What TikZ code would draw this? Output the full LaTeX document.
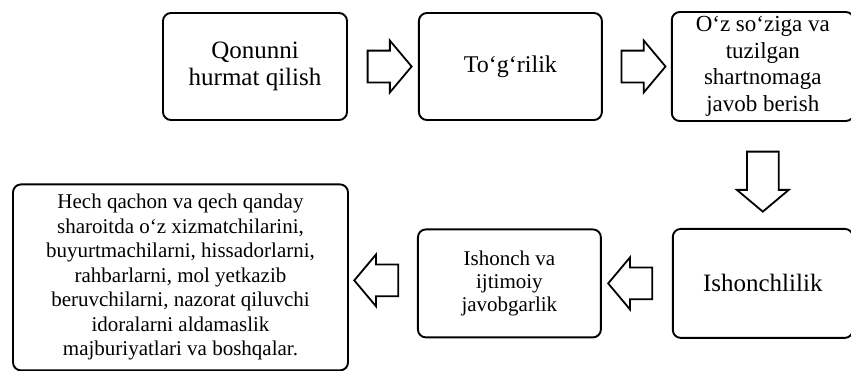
\documentclass[tikz,border=0pt]{standalone}
\usepackage{fontspec}
\setmainfont{Liberation Serif}
\usetikzlibrary{shapes.arrows, positioning, calc}

\begin{document}
\begin{tikzpicture}[
    x=1pt, y=1pt,
    node distance=70pt,
    block/.style={rectangle, rounded corners=8pt, draw, line width=1.9pt, align=center, inner sep=1pt},
    hollow/.style={single arrow, draw, line width=1.8pt, minimum height=44pt, inner xsep=0pt, inner ysep=15pt, single arrow head extend=10pt, single arrow tip angle=100},
]
    \useasboundingbox (0,0) rectangle (851,-370);

    % Top row
    \node[block, minimum width=184pt, minimum height=107pt, font=\fontsize{25}{27}\selectfont] (law) at (255,-66.5) {Qonunni\\hurmat qilish};
    \node[block, minimum width=183pt, minimum height=107pt, font=\fontsize{24}{27}\selectfont, right=70pt of law] (honest) {To‘g‘rilik};
    \node[block, minimum width=182pt, minimum height=109pt, font=\fontsize{23}{26.5}\selectfont, right=68pt of honest] (word) {O‘z so‘ziga va\\tuzilgan\\shartnomaga\\javob berish};

    % Bottom row
    \node[block, minimum width=180pt, minimum height=109pt, font=\fontsize{25}{27}\selectfont, below=106pt of word] (trust) {Ishonchlilik};
    \node[block, minimum width=183pt, minimum height=108pt, font=\fontsize{21}{23}\selectfont, left=70pt of trust] (social) {Ishonch va\\ijtimoiy\\javobgarlik};
    \node[block, minimum width=335pt, minimum height=186pt, font=\fontsize{21}{24.5}\selectfont, left=68pt of social, yshift=6pt] (never) {Hech qachon va qech qanday\\sharoitda o‘z xizmatchilarini,\\buyurtmachilarni, hissadorlarni,\\rahbarlarni, mol yetkazib\\beruvchilarni, nazorat qiluvchi\\idoralarni aldamaslik\\majburiyatlari va boshqalar.};

    % Hollow arrows
    \node[hollow] (a1) at ($(law.east)!0.5!(honest.west)$) {};
    \node[hollow] (a2) at ($(honest.east)!0.5!(word.west)$) {};
    \node[hollow, minimum height=60pt, rotate=-90] (a3) at ($(word.south)!0.5!(trust.north)$) {};
    \node[hollow, rotate=180] (a4) at ($(trust.west)!0.5!(social.east)$) {};
    \node[hollow, rotate=180] (a5) at ($(social.west)!0.5!(never.east)$) {};
\end{tikzpicture}
\end{document}
